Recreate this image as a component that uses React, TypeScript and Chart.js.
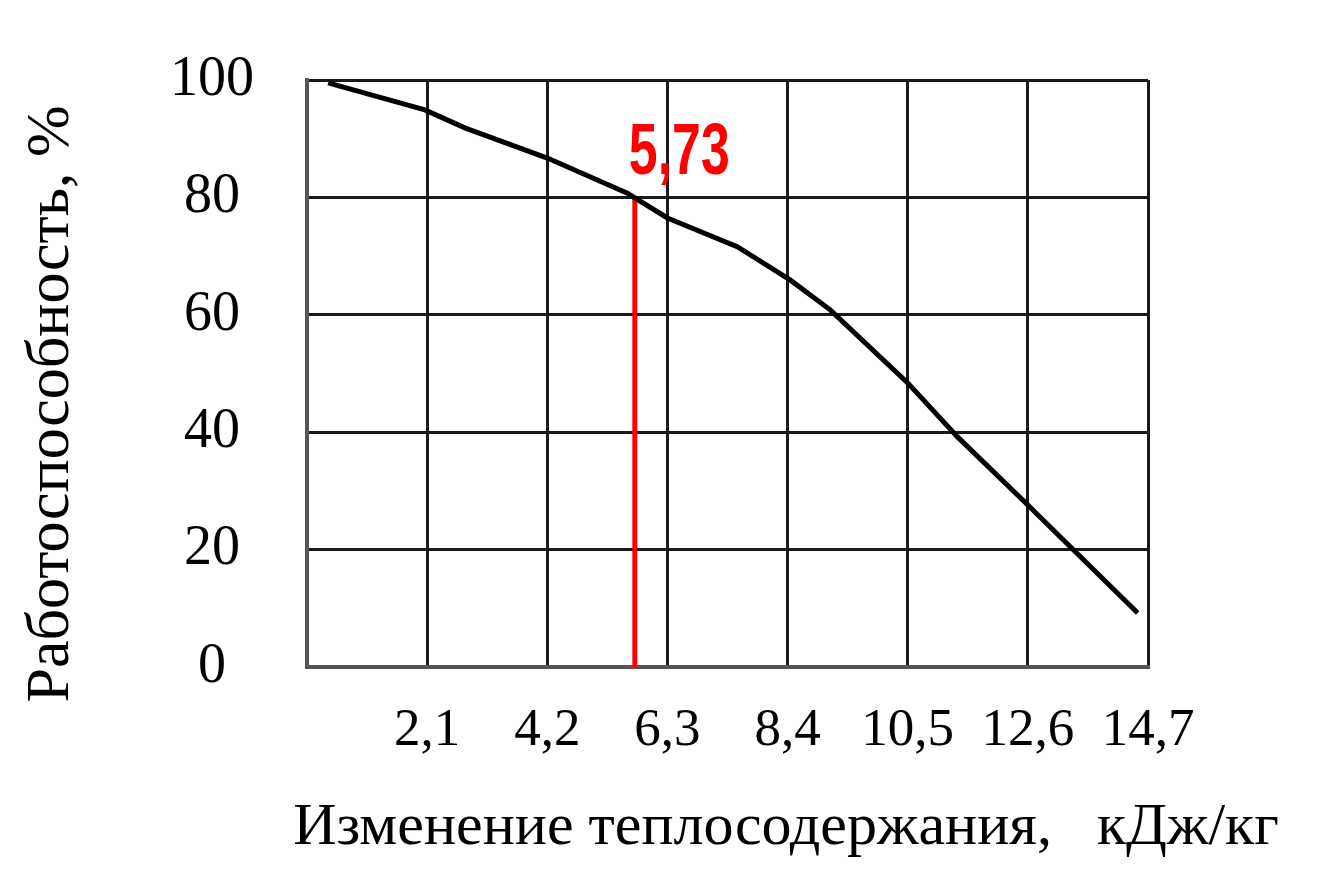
import React, { useEffect, useRef } from "react";
import { Chart, registerables } from "chart.js";

Chart.register(...registerables);

const xTickValues = [0, 2.1, 4.2, 6.3, 8.4, 10.5, 12.6, 14.7];
const xTickLabels = ["", "2,1", "4,2", "6,3", "8,4", "10,5", "12,6", "14,7"];
const yTickValues = [0, 20, 40, 60, 80, 100];
const yTickLabels = ["0", "20", "40", "60", "80", "100"];

const curveX = [0.37, 2.06, 2.77, 4.2, 5.6, 6.3, 7.52, 8.45, 9.15, 10.5, 11.37, 12.6, 13.35, 14.52];
const curveY = [99.5, 94.9, 91.8, 86.7, 80.7, 76.5, 71.6, 65.9, 60.8, 48.4, 39.2, 27.6, 20.4, 9.2];

const markerX = 5.73;
const markerY = 80;
const markerLabel = "5,73";

const xTitle = "Изменение теплосодержания,   кДж/кг";
const yTitle = "Работоспособность, %";

const SERIF = '"Liberation Serif", "Times New Roman", serif';

export default function App() {
  const canvasRef = useRef<HTMLCanvasElement | null>(null);

  useEffect(() => {
    const canvas = canvasRef.current;
    if (!canvas) return;

    const titlesPlugin = {
      id: "titlesPlugin",
      afterDraw(chart: any) {
        const ctx = chart.ctx;
        const xs = chart.scales.x;
        const ys = chart.scales.y;
        ctx.save();
        ctx.fillStyle = "#000";
        ctx.textAlign = "center";
        ctx.textBaseline = "middle";
        ctx.font = `60px ${SERIF}`;
        ctx.fillText(xTitle, 786, 828);
        ctx.save();
        ctx.translate(52, 404);
        ctx.rotate(-Math.PI / 2);
        ctx.font = `62px ${SERIF}`;
        ctx.fillText(yTitle, 0, 0);
        ctx.restore();
        ctx.fillStyle = "#ff0000";
        ctx.font = `bold 72px "Liberation Sans", Arial, sans-serif`;
        ctx.textAlign = "left";
        ctx.textBaseline = "alphabetic";
        const lx = xs.getPixelForValue(markerX) - 6;
        const ly = ys.getPixelForValue(markerY) - 23;
        ctx.translate(lx, ly);
        ctx.scale(0.72, 1);
        ctx.fillText(markerLabel, 0, 0);
        ctx.restore();
      },
    };

    const chart = new Chart(canvas, {
      type: "line",
      data: {
        datasets: [
          {
            data: curveX.map((x, i) => ({ x, y: curveY[i] })),
            borderColor: "#000",
            borderWidth: 5,
            pointRadius: 0,
            tension: 0,
          },
          {
            data: [
              { x: markerX, y: 0 },
              { x: markerX, y: markerY },
            ],
            borderColor: "#ff0000",
            borderWidth: 5,
            pointRadius: 0,
          },
        ],
      },
      options: {
        animation: false,
        responsive: false,
        devicePixelRatio: 1,
        layout: { padding: { left: 0, top: 80, right: 190, bottom: 0 } },
        plugins: { legend: { display: false }, tooltip: { enabled: false } },
        scales: {
          x: {
            type: "linear",
            min: 0,
            max: 14.7,
            afterBuildTicks: (s: any) => {
              s.ticks = xTickValues.map((v) => ({ value: v }));
            },
            afterFit: (s: any) => {
              s.height = 876 - 667;
              s.paddingLeft = 0;
              s.paddingRight = 0;
            },
            ticks: {
              callback: (_v: any, i: number) => xTickLabels[i],
              font: { family: SERIF, size: 53 },
              color: "#000",
              padding: 32,
              maxRotation: 0,
              autoSkip: false,
            },
            grid: { color: "#1a1a1a", lineWidth: 3, drawTicks: false },
            border: { color: "#555", width: 4 },
          },
          y: {
            type: "linear",
            min: 0,
            max: 100,
            afterBuildTicks: (s: any) => {
              s.ticks = yTickValues.map((v) => ({ value: v }));
            },
            afterFit: (s: any) => {
              s.width = 307;
              s.paddingTop = 0;
              s.paddingBottom = 0;
            },
            ticks: {
              callback: (_v: any, i: number) => yTickLabels[i],
              font: { family: SERIF, size: 56 },
              color: "#000",
              padding: 53,
              crossAlign: "center",
              autoSkip: false,
            },
            grid: { color: "#1a1a1a", lineWidth: 3, drawTicks: false },
            border: { color: "#555", width: 4 },
          },
        },
      },
      plugins: [titlesPlugin],
    });

    return () => chart.destroy();
  }, []);

  return (
    <div style={{ position: "fixed", left: 0, top: 0, width: 1338, height: 876, background: "#fff" }}>
      <canvas ref={canvasRef} width={1338} height={876} />
    </div>
  );
}
